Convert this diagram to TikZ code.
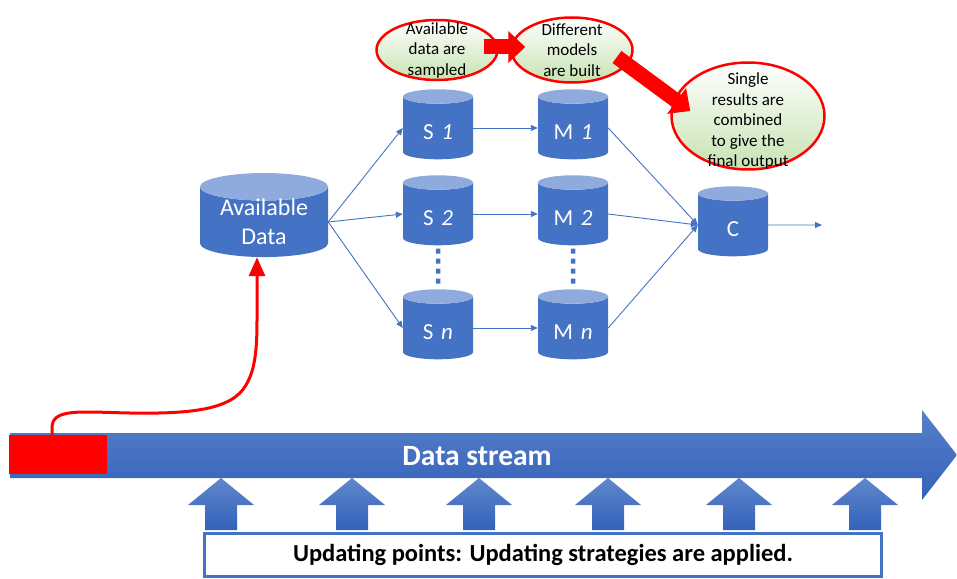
\documentclass[tikz,border=0pt]{standalone}
\usepackage{fontspec}
\setmainfont{Carlito}
\usetikzlibrary{shapes,arrows.meta,positioning,calc}
\definecolor{officeblue}{RGB}{68,114,196}
\definecolor{lidblue}{RGB}{143,170,220}
\definecolor{barblue}{RGB}{52,98,186}
\definecolor{paleg}{RGB}{198,226,178}
\tikzset{
store/.style = {cylinder, shape border rotate=90, aspect=0.36, cylinder uses custom fill, cylinder body fill=officeblue, cylinder end fill=lidblue, minimum width=70pt, minimum height=70pt, inner sep=0pt, text width=40pt, align=center, text height=23pt, text depth=0pt, text=white, font=\fontsize{23}{28}\selectfont},
bubble/.style = {ellipse, draw=red, line width=2.5pt, top color=white, bottom color=paleg, inner sep=0pt},
note/.style = {align=center, font=\fontsize{17}{20.5}\selectfont},
flow/.style = {officeblue, line width=0.9pt, -{Triangle[length=7pt,width=6pt]}},
jump/.style = {red, line width=15pt, -{Triangle[length=17pt,width=31pt]}},
dots/.style = {officeblue, line width=4.5pt, dash pattern=on 5pt off 5pt}
}
\begin{document}
\begin{tikzpicture}[x=1pt, y=-1pt, node distance=86pt]
\useasboundingbox (0,0) rectangle (957,578);

% stores
\node [store, minimum width=128pt, minimum height=84pt, text width=100pt, aspect=0.275, text height=8pt, text depth=21pt, font=\fontsize{24}{29}\selectfont] (data) at (264,222) {Available\\Data};
\node [store] (S1) at (438,128) {S \textit{1}};
\node [store, below of=S1] (S2) {S \textit{2}};
\node [store, below of=S2, node distance=114pt] (Sn) {S \textit{n}};
\node [store, right of=S1, node distance=135pt] (M1) {M \textit{1}};
\node [store, right of=S2, node distance=135pt] (M2) {M \textit{2}};
\node [store, right of=Sn, node distance=135pt] (Mn) {M \textit{n}};
\node [store] (C) at (733,225) {C};
\coordinate [right of=C, node distance=89pt] (out);

\draw [flow] (data.east) -- (S1.west);
\draw [flow] (data.east) -- (S2.west);
\draw [flow] (data.east) -- (Sn.west);
\foreach \i in {1,2,n} {
  \draw [flow] (S\i.east) -- (M\i.west);
  \draw [flow] (M\i.east) -- (C.west);
}
\draw [flow] (C.east) -- (out);
\draw [dots, shorten <=3pt, shorten >=5pt] (S2.south) -- (Sn.north);
\draw [dots, shorten <=3pt, shorten >=5pt] (M2.south) -- (Mn.north);

% bubbles
\node [bubble, minimum width=121pt, minimum height=60pt] (sample) at (437,50) {};
\node [bubble, minimum width=121pt, minimum height=65pt] (build) at (572,50) {};
\node [bubble, minimum width=153pt, minimum height=107pt] (combine) at (748,116) {};
\node [note] (sampletext) at (sample) {Available\\data are\\sampled};
\node [note] (buildtext) at (build) {Different\\models\\are built};
\node [note] (combinetext) at (748,121) {Single\\results are\\combined\\to give the\\final output};
\draw [jump] ($(sample.east)+(-15,-3)$) -- ($(build.west)+(15,-3)$);
\draw [jump] ($(build.center)+(45,7)$) -- ($(combine.west)+(20,-5)$);

% data stream
\shade [top color=officeblue!90!white, bottom color=barblue] (10,433) -- (922,433) -- (922,410) -- (957,455) -- (922,500) -- (922,478) -- (10,478) -- cycle;
\node [fill=red, minimum width=98pt, minimum height=39pt, inner sep=0pt] (recent) at (58,454.5) {};
\node [text=white, font=\bfseries\fontsize{29.5}{34}\selectfont] (stream) at (477,456) {Data stream};
\draw [red, line width=3pt, -{Triangle[length=19pt,width=16pt]}] ($(recent.north)+(-6,0)$) -- ++(0,-7)
  .. controls (52,408) and (80,412) .. (130,413)
  .. controls (190,414) and (232,410) .. (246,385)
  .. controls (255,370) and (257,350) .. (257,320) -- ($(data.south)+(-7,0)$);

% updating points
\foreach \x in {221,352,479,608,739,865}
  \shade [top color=officeblue!85!white, bottom color=barblue] (\x-16,530) -- (\x-16,505) -- (\x-33,505) -- (\x,478) -- (\x+33,505) -- (\x+16,505) -- (\x+16,530) -- cycle;
\node [draw=officeblue, line width=3pt, fill=white, minimum width=677pt, minimum height=43pt, font=\bfseries\fontsize{24.5}{28}\selectfont] (update) at (543,555) {Updating points: Updating strategies are applied.};
\end{tikzpicture}
\end{document}
